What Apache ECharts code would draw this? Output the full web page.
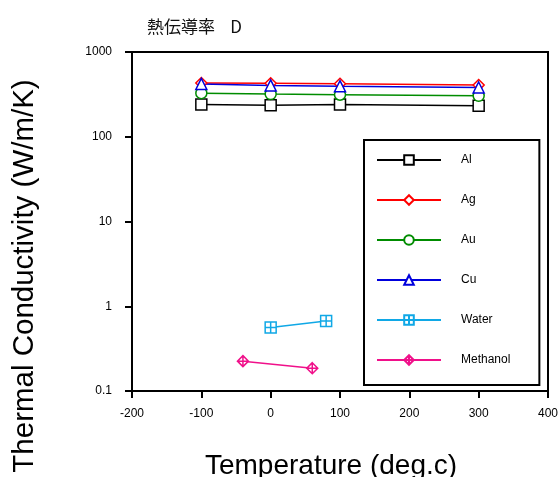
<!DOCTYPE html>
<html>
<head>
<meta charset="utf-8">
<script src="https://cdn.jsdelivr.net/npm/echarts@6/dist/echarts.min.js"></script>
<style>
  html, body { margin: 0; padding: 0; background: #fff; }
  #chart { width: 559px; height: 477px; }
</style>
</head>
<body>
<div id="chart"></div>
<script>
// Thermal conductivity vs temperature, [temperature (deg.c), W/m/K]
const alData = [[-100, 240], [0, 236], [100, 240], [300, 232]];
const agData = [[-100, 431], [0, 428], [100, 422], [300, 407]];
const auData = [[-100, 327], [0, 319], [100, 313], [300, 304]];
const cuData = [[-100, 420], [0, 403], [100, 395], [300, 381]];
const waterData = [[0, 0.56], [80, 0.67]];
const methanolData = [[-40, 0.225], [60, 0.186]];

const seriesNames = ['Al', 'Ag', 'Au', 'Cu', 'Water', 'Methanol'];
const xTicks = [-200, -100, 0, 100, 200, 300, 400];
const yTicks = [0.1, 1, 10, 100, 1000];

const titleText = '熱伝導率    D';
const xName = 'Temperature (deg.c)';
const yName = 'Thermal Conductivity (W/m/K)';

const squarePlus = 'path://M0,0H10V10H0Z M5,0V10 M0,5H10';
const diamondPlus = 'path://M5,0L10,5L5,10L0,5Z M5,0V10 M0,5H10';

function makeSeries(name, data, color, symbol) {
  return {
    name: name,
    type: 'line',
    data: data,
    symbol: symbol,
    symbolSize: 11,
    showAllSymbol: true,
    lineStyle: { color: color, width: 1.5 },
    itemStyle: { color: '#fff', borderColor: color, borderWidth: 1.5 },
    emphasis: { disabled: true },
    z: 3
  };
}

const chart = echarts.init(document.getElementById('chart'), null, { renderer: 'canvas' });

chart.setOption({
  animation: false,
  backgroundColor: '#fff',
  textStyle: { fontFamily: 'Liberation Sans, Arial, sans-serif' },
  title: {
    text: titleText,
    left: 142,
    top: 13,
    textStyle: { fontFamily: 'Noto Sans CJK JP', fontSize: 17, fontWeight: 'normal', color: '#111' }
  },
  grid: {
    left: 132, right: 11, top: 52, bottom: 86,
    containLabel: false,
    outerBoundsMode: 'none',
    show: true, borderColor: '#000', borderWidth: 2, backgroundColor: 'transparent'
  },
  xAxis: {
    type: 'value',
    min: -200, max: 400, interval: 100,
    name: xName,
    nameLocation: 'middle',
    nameGap: 61,
    nameTextStyle: { fontSize: 28, color: '#000', padding: [0, 18, 0, 0],
      fontFamily: 'Liberation Sans, Arial, sans-serif' },
    axisLine: { show: true, onZero: false, lineStyle: { color: '#000', width: 2 } },
    axisTick: { show: true, length: 7, inside: false, lineStyle: { color: '#000', width: 2 } },
    axisLabel: { margin: 17, fontSize: 12, color: '#000',
      formatter: v => xTicks.includes(v) ? String(v) : '' },
    splitLine: { show: false }
  },
  yAxis: {
    type: 'log',
    logBase: 10,
    min: yTicks[0], max: yTicks[yTicks.length - 1],
    axisLine: { show: true, onZero: false, lineStyle: { color: '#000', width: 2 } },
    axisTick: { show: true, length: 7, inside: false, lineStyle: { color: '#000', width: 2 } },
    axisLabel: { margin: 20, fontSize: 12, color: '#000',
      formatter: v => String(v) },
    minorTick: { show: false },
    splitLine: { show: false }
  },
  legend: {
    orient: 'vertical',
    left: 364,
    top: 140,
    data: seriesNames,
    backgroundColor: '#fff',
    borderColor: '#000',
    borderWidth: 2,
    borderRadius: 0,
    padding: [14, 29, 19, 12],
    itemWidth: 64,
    itemHeight: 12,
    itemGap: 28,
    selectedMode: false,
    textStyle: { fontSize: 12, color: '#000', padding: [0, 0, 0, 15] }
  },
  graphic: [{
    type: 'text',
    x: 25,
    y: 276,
    rotation: Math.PI / 2,
    style: {
      text: yName,
      fontSize: 29.5,
      fill: '#000',
      align: 'center',
      verticalAlign: 'middle',
      fontFamily: 'Liberation Sans, Arial, sans-serif'
    }
  }],
  series: [
    makeSeries('Al', alData, '#000000', 'rect'),
    makeSeries('Ag', agData, '#ff0000', 'diamond'),
    makeSeries('Au', auData, '#008c00', 'circle'),
    makeSeries('Cu', cuData, '#0000dd', 'triangle'),
    makeSeries('Water', waterData, '#10a8e6', squarePlus),
    makeSeries('Methanol', methanolData, '#f0108a', diamondPlus)
  ]
});
</script>
</body>
</html>
